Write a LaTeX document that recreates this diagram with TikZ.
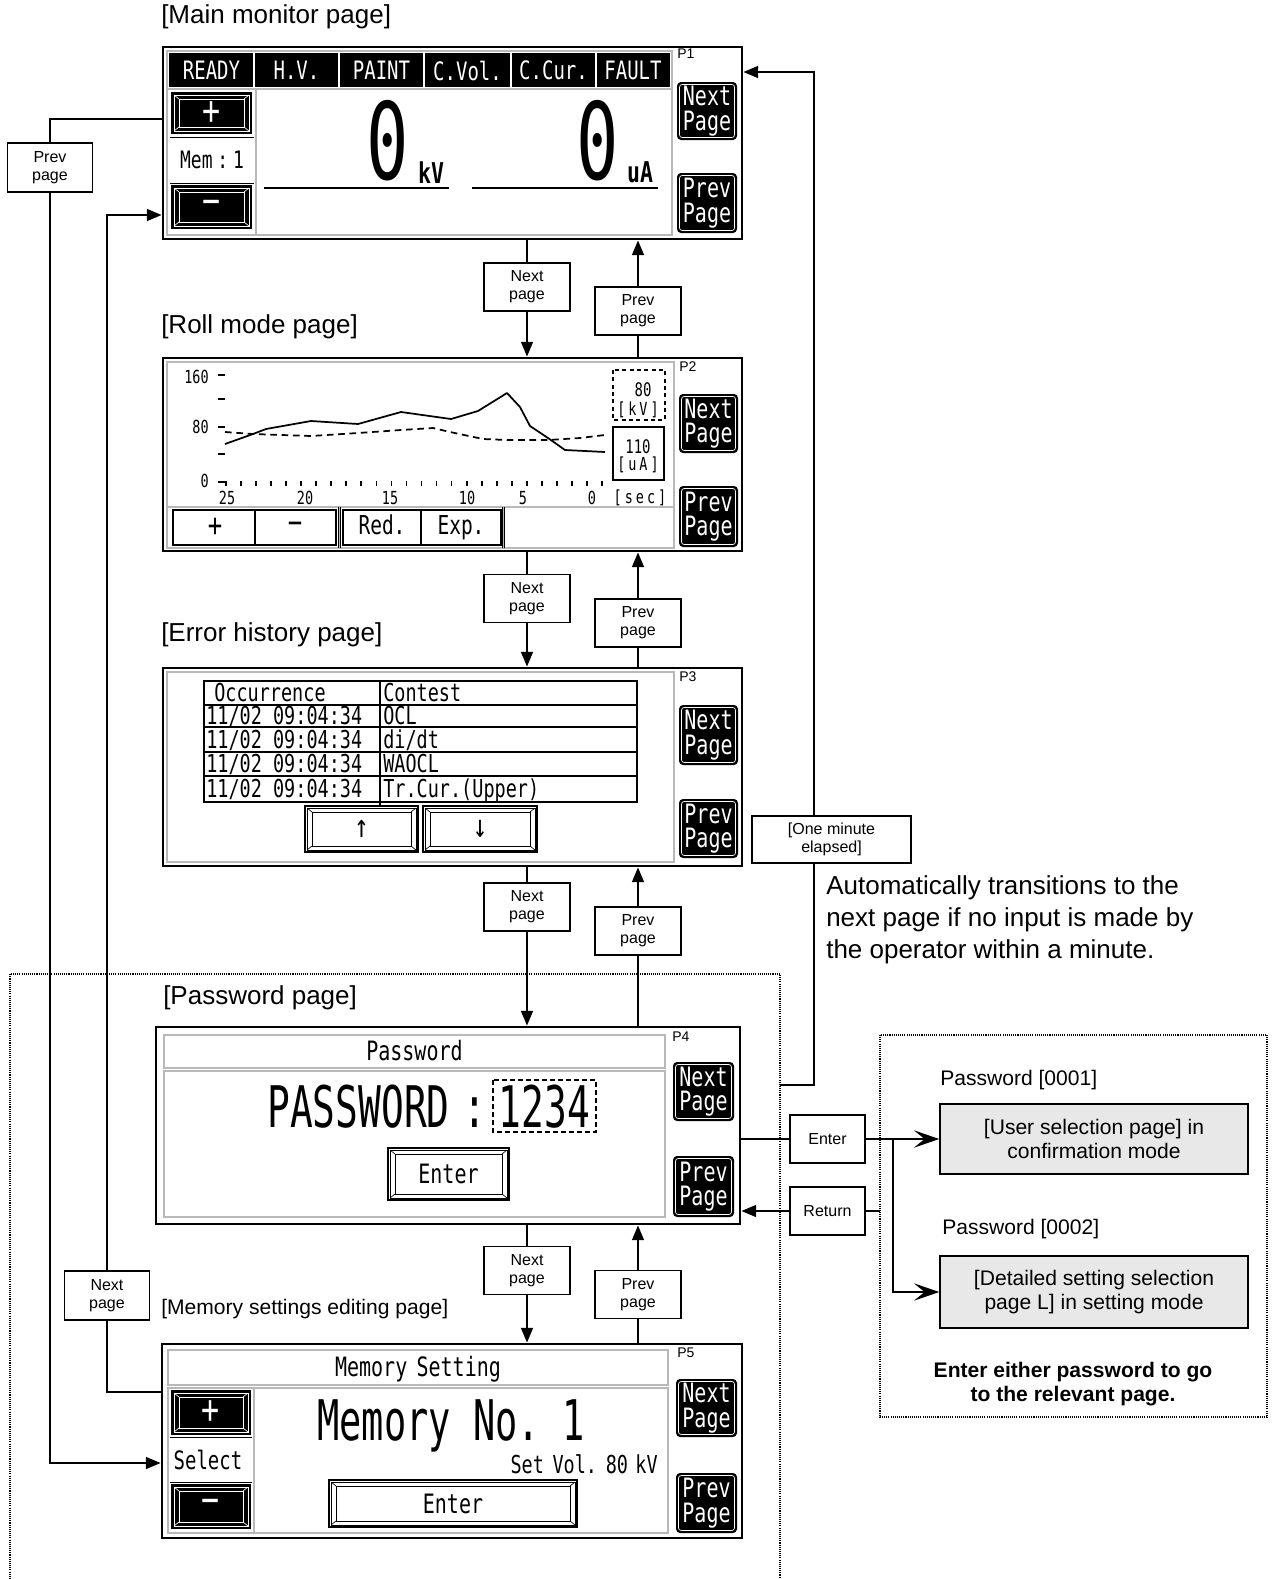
\documentclass[tikz,border=0pt]{standalone}
\usepackage{fontspec}
\setmainfont{Liberation Sans}
\newfontfamily\lcd[FakeStretch=0.75]{DejaVu Sans Mono}
\newfontfamily\lcdn[FakeStretch=0.66]{DejaVu Sans Mono}
\usetikzlibrary{arrows.meta,calc}

\tikzset{
  scr/.style={draw, line width=2.2pt, inner sep=0pt, fill=white},
  dbl/.style={draw=black, line width=0.45pt, double=gray!55, double distance=1.1pt},
  lcdt/.style={font=\lcd\fontsize{#1}{#1}\selectfont, inner sep=0pt},
  lcdbig/.style={font=\lcdn\fontsize{#1}{#1}\selectfont, inner sep=0pt},
  pgtxt/.style={text=white, align=center, font=\lcd\fontsize{20}{18.5}\selectfont, inner sep=0pt},
  plabel/.style={anchor=north west, inner sep=0pt, font=\fontsize{10.5}{11}\selectfont},
  pagetitle/.style={anchor=west, inner sep=0pt, font=\fontsize{19.5}{22}\selectfont},
  lbl/.style={draw, fill=white, line width=1.1pt, align=center, inner sep=0pt, font=\fontsize{12}{13.5}\selectfont},
  wire/.style={line width=1.1pt},
  conn/.style={line width=1.1pt, -{Triangle[length=11pt,width=9pt]}},
  spear/.style={line width=1.1pt, -{Stealth[length=19pt,width=13pt,inset=8pt]}},
  grayb/.style={draw, fill=gray!18, line width=1.1pt, align=center, inner sep=0pt, font=\fontsize{15.8}{18.5}\selectfont},
  dotb/.style={line width=0.8pt, dash pattern=on 0.8pt off 0.8pt},
}

% double-line framed box
\newcommand\DbBox[4]{\draw[dbl] (#1,#2) rectangle (#3,#4);}
% black "Next/Prev Page" button: name x1 y1 x2 y2 text
\newcommand\PgBtn[6]{%
  \fill[black, rounded corners=3pt] (#2,#3) rectangle (#4,#5);
  \draw[white, line width=0.5pt, rounded corners=2pt] (#2+2.5,#3+2.5) rectangle (#4-2.5,#5-2.5);
  \node[pgtxt] (#1) at ({(#2+#4)/2},{(#3+#5)/2}) {#6};
}
% bevelled button: name x1 y1 x2 y2 fill linecolour text
\newcommand\BvBtn[8]{%
  \filldraw[fill=#6, draw=black, line width=0.8pt] (#2,#3) rectangle (#4,#5);
  \draw[#7, line width=0.5pt] (#2+2,#3+2) rectangle (#4-2,#5-2);
  \draw[#7, line width=0.5pt] (#2+7,#3+6) rectangle (#4-7,#5-6);
  \draw[#7, line width=0.5pt] (#2+2,#3+2) -- (#2+7,#3+6) (#4-2,#3+2) -- (#4-7,#3+6)
     (#2+2,#5-2) -- (#2+7,#5-6) (#4-2,#5-2) -- (#4-7,#5-6);
  \node[lcdt=20, text=#7] (#1) at ({(#2+#4)/2},{(#3+#5)/2}) {#8};
}

\begin{document}
\begin{tikzpicture}[x=0.75pt, y=-0.75pt]
\useasboundingbox (0,0) rectangle (1273,1579);
\fill[white] (0,0) rectangle (1273,1579);

% ---------------- titles
\node[pagetitle] (t1) at (161,17) {[Main monitor page]};
\node[pagetitle] (t2) at (161,327) {[Roll mode page]};
\node[pagetitle] (t3) at (161,635) {[Error history page]};
\node[pagetitle] (t4) at (163,998) {[Password page]};
\node[pagetitle, font=\fontsize{15.8}{18}\selectfont] (t5) at (161,1309) {[Memory settings editing page]};

% ---------------- P1
\node[scr, minimum width=434.25pt, minimum height=144pt] (p1) at (452.5,143) {};
\DbBox{167}{51}{672}{235}
\fill[black] (169,53) rectangle (670,87);
\foreach \xx in {254,339,424,511,596} \draw[white, line width=1.2pt] (\xx,53) -- (\xx,87);
\foreach \cx/\tx [count=\i] in {211.5/READY, 296.5/H.V., 381.5/PAINT, 467.5/C.Vol., 553.5/C.Cur., 633/FAULT}
  \node[lcdt=19, text=white] (h\i) at (\cx,70.5) {\tx};
\draw[dbl] (167,89) -- (672,89);
\draw[dbl] (256,89) -- (256,235);
\BvBtn{b1p}{172}{93}{251}{133}{black}{white}{\fontsize{30}{30}\selectfont +}
\draw[line width=0.6pt] (170,137) -- (254,137) (170,183) -- (254,183);
\node[lcdt=18] (m1) at (212,160) {Mem\hspace{0.2em}:\hspace{0.2em}1};
\BvBtn{b1m}{172}{186}{251}{228}{black}{white}{\fontsize{30}{30}\selectfont −}
\node[lcdbig=80] (z1) at (388,141) {0};
\node[lcdbig=80] (z2) at (597.5,141) {0};
\node[lcdt=21.5] (k1) at (431,172.5) {\bfseries kV};
\node[lcdt=21.5] (u1) at (640,172.5) {\bfseries uA};
\draw[line width=0.9pt] (264,188) -- (449,188) (472,188) -- (658,188);
\node[plabel] (l1) at (677,49) {P1};
\PgBtn{n1}{677}{82}{737}{140}{Next\\Page}
\PgBtn{r1}{677}{173}{737}{233}{Prev\\Page}

% ---------------- P2
\node[scr, minimum width=434.25pt, minimum height=144.75pt] (p2) at (452.5,454.5) {};
\DbBox{167}{362}{674}{548}
\foreach \yy in {375,399,427,454,482} \draw[line width=1.3pt] (218,\yy) -- (225,\yy);
\node[lcdt=13.5, anchor=east] (y160) at (209,377) {160};
\node[lcdt=13.5, anchor=east] (y80) at (209,427) {80};
\node[lcdt=13.5, anchor=east] (y0) at (209,481) {0};
\foreach \k in {0,...,25} \draw[line width=1.3pt] ({226+15.04*\k},481) -- ({226+15.04*\k},486);
\foreach \xx/\tx [count=\i] in {227/25,305/20,390/15,467/10,523/5,592/0}
  \node[lcdt=13.5] (x\i) at (\xx,498) {\tx};
\node[lcdt=13.5] (xs) at (640,498) {[\,s\,e\,c\,]};
\draw[line width=1.3pt, line join=round] (225,444) -- (253,434) -- (266,429) -- (311,421) -- (358,424) -- (401,412) -- (451,419) -- (478,411) -- (507,393) -- (520,407) -- (530,426) -- (548,438) -- (565,450) -- (605,452);
\draw[line width=1.3pt, dash pattern=on 5pt off 3.5pt] (225,432) -- (253,434) -- (311,436) -- (358,433) -- (401,430) -- (433,428) -- (450,432) -- (483,439) -- (507,440) -- (548,440) -- (580,438) -- (605,435);
\draw[line width=1pt, dash pattern=on 3pt off 2.5pt] (613,370) rectangle (665,420);
\node[lcdt=14] (kv1) at (643,390) {80};
\node[lcdt=13.5] (kv2) at (638,410) {[\,k\,V\,]};
\draw[line width=1pt] (613,427) rectangle (664,480);
\node[lcdt=14] (ua1) at (638,447) {110};
\node[lcdt=13.5] (ua2) at (638,465) {[\,u\,A\,]};
\draw[dbl] (167,507) -- (674,507);
\draw[dbl] (339.5,507) -- (339.5,548);
\draw[dbl] (503.5,507) -- (503.5,548);
\draw[line width=0.8pt] (173,510) rectangle (336,545) (255,510) -- (255,545) (343,510) rectangle (501,545) (421,510) -- (421,545);
\node[lcdt=24] (bp) at (215,527.5) {+};
\node[lcdt=24] (bm) at (295,527.5) {−};
\node[lcdt=19.5, anchor=base] (bred) at (382,534) {Red.};
\node[lcdt=19.5, anchor=base] (bexp) at (461,534) {Exp.};
\node[plabel] (l2) at (679,361) {P2};
\PgBtn{n2}{679}{394}{738}{453}{Next\\Page}
\PgBtn{r2}{679}{486}{738}{547}{Prev\\Page}

% ---------------- P3
\node[scr, minimum width=434.25pt, minimum height=148.5pt] (p3) at (452.5,767) {};
\DbBox{167}{672}{674}{862}
\draw[line width=0.8pt] (204,681) rectangle (637,802);
\foreach \yy in {705,727,752,776} \draw[line width=0.8pt] (204,\yy) -- (637,\yy);
\draw[line width=0.8pt] (380,681) -- (380,806);
\node[lcdt=18.5, anchor=base west] (oc) at (214,701) {Occurrence};
\node[lcdt=18.5, anchor=base west] (ctt) at (383,701) {Contest};
\node[lcdt=18.5, anchor=base west] (d1) at (206,724) {11/02 09:04:34};
\node[lcdt=18.5, anchor=base west] (e1) at (383,724) {OCL};
\node[lcdt=18.5, anchor=base west] (d2) at (206,748) {11/02 09:04:34};
\node[lcdt=18.5, anchor=base west] (e2) at (383,748) {di/dt};
\node[lcdt=18.5, anchor=base west] (d3) at (206,772) {11/02 09:04:34};
\node[lcdt=18.5, anchor=base west] (e3) at (383,772) {WAOCL};
\node[lcdt=18.5, anchor=base west] (d4) at (206,797) {11/02 09:04:34};
\node[lcdt=18.5, anchor=base west] (e4) at (383,797) {Tr.Cur.(Upper)};
\BvBtn{up}{305}{806}{418}{852}{white}{black}{\fontsize{24}{24}\selectfont ↑}
\BvBtn{dn}{423}{806}{537}{852}{white}{black}{\fontsize{24}{24}\selectfont ↓}
\node[plabel] (l3) at (679,671) {P3};
\PgBtn{n3}{679}{705}{738}{765}{Next\\Page}
\PgBtn{r3}{679}{799}{738}{858}{Prev\\Page}

% ---------------- P4
\node[scr, minimum width=438pt, minimum height=147.75pt] (p4) at (448,1125.5) {};
\DbBox{164}{1035}{665}{1068}
\node[lcdt=20, anchor=base] (pwt) at (414.5,1060) {Password};
\DbBox{164}{1071}{665}{1217}
\node[lcdbig=43, anchor=base east] (pwl) at (487,1127) {PASSWORD\hspace{0.25em}:};
\draw[line width=1pt, dash pattern=on 3.5pt off 2.5pt] (493,1080) rectangle (596,1132);
\node[lcdbig=43, anchor=base] (pwv) at (544.5,1127) {1234};
\BvBtn{pwe}{388}{1148}{509}{1200}{white}{black}{Enter}
\node[plabel] (l4) at (672,1032) {P4};
\PgBtn{n4}{673}{1062}{734}{1121}{Next\\Page}
\PgBtn{r4}{673}{1156}{734}{1217}{Prev\\Page}

% ---------------- P5
\node[scr, minimum width=435pt, minimum height=145.5pt] (p5) at (452,1441) {};
\DbBox{168}{1350}{668}{1385}
\node[lcdt=20, anchor=base] (mst) at (418,1376) {Memory\hspace{0.35em}Setting};
\DbBox{168}{1388}{668}{1533}
\draw[dbl] (254,1388) -- (254,1533);
\BvBtn{b5p}{172}{1391}{250}{1434}{black}{white}{\fontsize{30}{30}\selectfont +}
\draw[line width=0.6pt] (170,1437) -- (252,1437) (170,1482) -- (252,1482);
\node[lcdt=19] (sel) at (208,1459.5) {Select};
\BvBtn{b5m}{172}{1485}{250}{1528}{black}{white}{\fontsize{30}{30}\selectfont −}
\node[lcdbig=42, anchor=base] (mno) at (451,1440) {Memory\hspace{0.4em}No.\hspace{0.4em}1};
\node[lcdt=18.5, anchor=base east] (svl) at (658,1473) {Set\hspace{0.35em}Vol.\hspace{0.35em}80\hspace{0.3em}kV};
\BvBtn{b5e}{329}{1480}{577}{1527}{white}{black}{Enter}
\node[plabel] (l5) at (677,1348) {P5};
\PgBtn{n5}{676}{1379}{737}{1437}{Next\\Page}
\PgBtn{r5}{676}{1473}{737}{1533}{Prev\\Page}

% ---------------- connectors between pages
\foreach \nm/\yy in {12/287, 23/598.5, 34/907, 45/1270.5}
  \node[lbl, minimum width=64.5pt, minimum height=36pt] (nx\nm) at (527,\yy) {Next\\page};
\foreach \nm/\yy in {12/311, 23/623, 34/931, 45/1294.5}
  \node[lbl, minimum width=64.5pt, minimum height=36pt] (pv\nm) at (638,\yy) {Prev\\page};

\draw[wire] (nx12) -- (nx12 |- p1.south);
\draw[conn] (nx12) -- (nx12 |- p2.north);
\draw[wire] (pv12) -- (pv12 |- p2.north);
\draw[conn] (pv12) -- (pv12 |- p1.south);

\draw[wire] (nx23) -- (nx23 |- p2.south);
\draw[conn] (nx23) -- (nx23 |- p3.north);
\draw[wire] (pv23) -- (pv23 |- p3.north);
\draw[conn] (pv23) -- (pv23 |- p2.south);

\draw[wire] (nx34) -- (nx34 |- p3.south);
\draw[conn] (nx34) -- (nx34 |- p4.north);
\draw[wire] (pv34) -- (pv34 |- p4.north);
\draw[conn] (pv34) -- (pv34 |- p3.south);

\draw[wire] (nx45) -- (nx45 |- p4.south);
\draw[conn] (nx45) -- (nx45 |- p5.north);
\draw[wire] (pv45) -- (pv45 |- p5.north);
\draw[conn] (pv45) -- (pv45 |- p4.south);

% ---------------- left loops
\node[lbl, minimum width=63.75pt, minimum height=36.75pt] (pvl) at (50,167.5) {Prev\\page};
\coordinate (c1) at (50,119);
\coordinate (c2) at (50,1463);
\draw[wire] (c1 -| p1.west) -- (c1) -- (pvl);
\draw[conn] (pvl) -- (c2) -- (c2 -| p5.west);

\node[lbl, minimum width=63.75pt, minimum height=36.75pt] (nxl) at (107,1295.5) {Next\\page};
\coordinate (c3) at (107,1392);
\coordinate (c4) at (107,215);
\draw[wire] (c3 -| p5.west) -- (c3) -- (nxl);
\draw[conn] (nxl) -- (c4) -- (c4 -| p1.west);

% ---------------- password region and right loop
\draw[dotb] (10,1579) -- (10,974) -- (780,974) -- (780,1579);
\node[lbl, minimum width=119.25pt, minimum height=35.25pt] (om) at (831.5,839.5) {[One minute\\elapsed]};
\coordinate (c5) at (780,1085);
\coordinate (c6) at (814,1085);
\coordinate (c7) at (814,72);
\draw[wire] (c5) -- (c6) -- (c6 |- om.south);
\draw[conn] (c6 |- om.north) -- (c7) -- (c7 -| p1.east);

\node[anchor=west, align=left, inner sep=0pt, font=\fontsize{19.5}{24}\selectfont] (auto) at (826,920)
  {Automatically transitions to the\\next page if no input is made by\\the operator within a minute.};

% ---------------- password branches
\draw[dotb] (880,1035) rectangle (1267,1417);
\node[anchor=west, inner sep=0pt, font=\fontsize{15.8}{18}\selectfont] (pw1) at (940,1080) {Password [0001]};
\node[anchor=west, inner sep=0pt, font=\fontsize{15.8}{18}\selectfont] (pw2) at (942,1229) {Password [0002]};
\node[grayb, minimum width=231pt, minimum height=52.5pt] (g1) at (1094,1139) {[User selection page] in\\confirmation mode};
\node[grayb, minimum width=231pt, minimum height=54pt] (g2) at (1094,1292) {[Detailed setting selection\\page L] in setting mode};
\node[align=center, inner sep=0pt, font=\bfseries\fontsize{15.8}{18}\selectfont] (note) at (1073,1384) {Enter either password to go\\to the relevant page.};

\node[lbl, minimum width=56.25pt, minimum height=36pt] (en) at (827.5,1139) {Enter};
\node[lbl, minimum width=56.25pt, minimum height=36pt] (rt) at (827.5,1211) {Return};
\draw[wire] (p4.east |- en) -- (en);
\draw[spear] (en) -- (g1);
\coordinate (br) at (893,1139);
\draw[spear] (br) -- (br |- g2) -- (g2);
\coordinate (rs) at (880,1211);
\draw[wire] (rs) -- (rt);
\draw[conn] (rt) -- (rt -| p4.east);
\end{tikzpicture}
\end{document}
